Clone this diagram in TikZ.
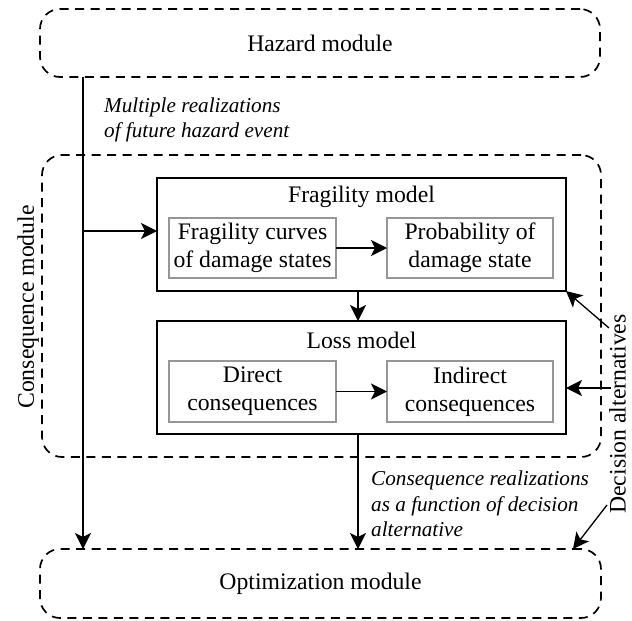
\documentclass[tikz,border=0pt]{standalone}
\usepackage{fontspec}
\setmainfont{Liberation Serif}
\usetikzlibrary{arrows.meta}
\definecolor{boxgray}{RGB}{150,150,150}
\tikzset{
  module/.style={draw=black, line width=1.7pt, dash pattern=on 9pt off 6.5pt, rounded corners=20pt,
    inner sep=0pt, outer sep=0pt, font=\fontsize{23.7}{28.5}\selectfont},
  modelbox/.style={draw=black, line width=2pt, inner sep=0pt, outer sep=0pt},
  subbox/.style={draw=boxgray, line width=2pt, inner sep=0pt, outer sep=0pt, align=center,
    minimum width=166pt, minimum height=60pt, font=\fontsize{23.7}{28}\selectfont},
  title/.style={font=\fontsize{23.7}{28.5}\selectfont, inner sep=0pt},
  note/.style={font=\fontsize{21.2}{25.5}\selectfont\itshape, align=left, inner sep=0pt},
  conn/.style={line width=1.3pt, -{Stealth[length=16pt,width=16pt,inset=4pt]}}
}
\begin{document}
\begin{tikzpicture}[x=1pt,y=-1pt]
\useasboundingbox (0,0) rectangle (632,621);
% modules
\node[module, minimum width=560pt, minimum height=68pt] (hazard) at (320,43) {Hazard module};
\node[module, minimum width=559pt, minimum height=302pt] (cons) at (321.5,306) {};
\node[module, minimum width=561pt, minimum height=69pt] (opt) at (320.5,583.5) {Optimization module};
% model boxes
\node[modelbox, minimum width=409pt, minimum height=113pt] (frag) at (361.5,234.5) {};
\node[modelbox, minimum width=409pt, minimum height=113pt] (loss) at (361.5,377.5) {};
\node[title] (fragt) at (361.5,197) {Fragility model};
\node[title] (losst) at (361.5,340) {Loss model};
% sub boxes
\node[subbox, minimum width=167pt] (fc) at (252.5,248) {Fragility curves\\of damage states};
\node[subbox] (pd) at (470,248) {Probability of\\damage state};
\node[subbox, minimum width=167pt, minimum height=61pt] (dc) at (252.5,391.5) {Direct\\consequences};
\node[subbox, minimum height=61pt] (ic) at (470,391.5) {Indirect\\consequences};
% side labels
\node[title, rotate=90, anchor=base] (consl) at (34,307) {Consequence module};
\node[title, rotate=90, anchor=base] (decl) at (625.5,414) {Decision alternatives};
% notes
\node[note, anchor=west] (n1) at (104,120) {Multiple realizations\\of future hazard event};
\node[note, anchor=west] (n2) at (371,504) {Consequence realizations\\as a function of decision\\alternative};
% helper coordinates
\coordinate (lx) at (83,0);
\coordinate (cx) at (358,0);
\coordinate (br) at (83,231);
\coordinate (d1) at (609,328);
\coordinate (d2) at (611,388);
\coordinate (d3) at (607,505);
\coordinate (d3e) at (573,0);
% connectors
\draw[conn] (hazard.south -| lx) -- (opt.north -| lx);
\draw[conn] (br) -- (br -| frag.west);
\draw[conn] (fc) -- (pd);
\draw[conn] (dc) -- (ic);
\draw[conn] (frag.south -| cx) -- (loss.north -| cx);
\draw[conn] (loss.south -| cx) -- (opt.north -| cx);
\draw[conn] (d1) -- (frag.south east);
\draw[conn] (d2) -- (d2 -| loss.east);
\draw[conn] (d3) -- (opt.north -| d3e);
\end{tikzpicture}
\end{document}
